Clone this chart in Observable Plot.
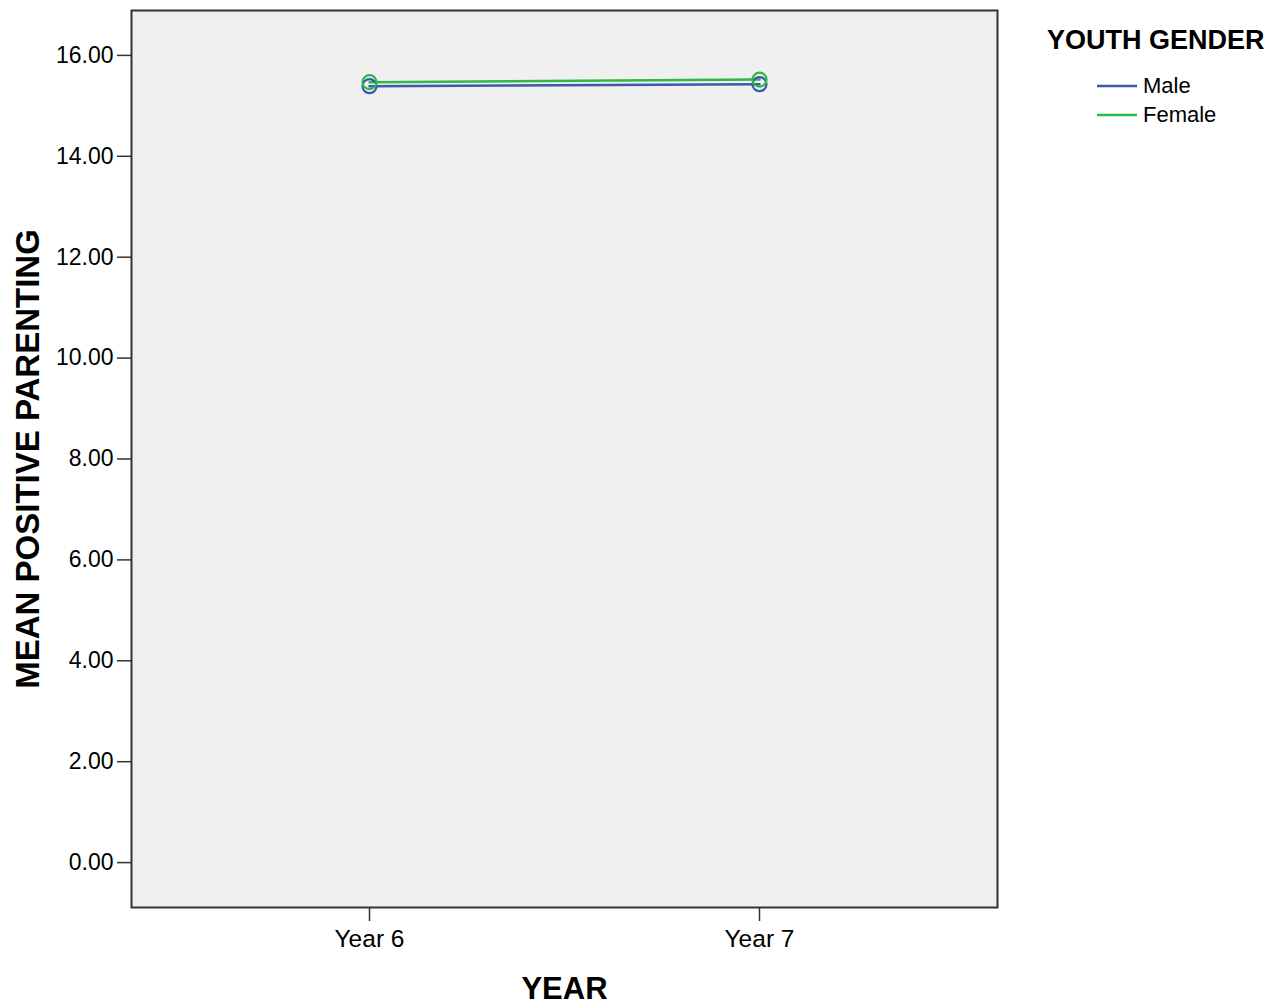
<!DOCTYPE html>
<html>
<head>
<meta charset="utf-8">
<script src="https://cdn.jsdelivr.net/npm/d3@7"></script>
<script src="https://cdn.jsdelivr.net/npm/@observablehq/plot@0.6"></script>
<style>
  html, body { margin: 0; padding: 0; background: #fff; }
  #wrap { position: relative; width: 1274px; height: 1005px; font-family: "Liberation Sans", Arial, sans-serif; }
  #wrap svg { position: absolute; left: 0; top: 0; font-family: "Liberation Sans", Arial, sans-serif; }
  g[aria-label="y-axis label"] text { font-size: 33px; font-weight: bold; fill: #000; }
  g[aria-label="x-axis label"] text { font-size: 31px; font-weight: bold; fill: #000; }
  g[aria-label="x-axis tick label"] text { font-size: 24.5px; }
  #legend { position: absolute; left: 1047px; top: 22px; color: #000; }
  #legend .title { font-weight: bold; font-size: 27px; line-height: 36px; margin-bottom: 13px; white-space: nowrap; }
  #legend .item { display: flex; align-items: center; height: 29px; margin-left: 50px; font-size: 22px; }
  #legend .item svg { position: static; margin-right: 6px; }
</style>
</head>
<body>
<div id="wrap"></div>
<script>
const years = ["Year 6", "Year 7"];
const genders = ["Male", "Female"];
const maleValues = [15.39, 15.43];
const femaleValues = [15.47, 15.52];
const yTicks = [0, 2, 4, 6, 8, 10, 12, 14, 16];
const colors = ["#3E58AC", "#2EB848"];

const data = [];
years.forEach((yr, i) => data.push({year: yr, gender: "Male", value: maleValues[i]}));
years.forEach((yr, i) => data.push({year: yr, gender: "Female", value: femaleValues[i]}));

const chart = Plot.plot({
  width: 1274,
  height: 1005,
  marginLeft: 131,
  marginRight: 277,
  marginTop: 10,
  marginBottom: 98,
  style: {fontFamily: "Liberation Sans, Arial, sans-serif", fontSize: "23px", color: "#000", background: "transparent"},
  x: {type: "point", domain: years, padding: 0.61},
  y: {domain: [-0.89, 16.89]},
  color: {domain: genders, range: colors},
  marks: [
    Plot.frame({fill: "#F0F0F0", stroke: "none"}),
    Plot.axisY({ticks: yTicks, tickFormat: d3.format(".2f"), tickSize: 14, tickPadding: 4, stroke: "#333", strokeWidth: 1.5,
      label: "MEAN POSITIVE PARENTING", labelAnchor: "center", labelArrow: "none", labelOffset: 116}),
    Plot.axisX({tickSize: 14, tickPadding: 8, stroke: "#333", strokeWidth: 1.5,
      label: "YEAR", labelAnchor: "center", labelArrow: "none", labelOffset: 91}),
    Plot.line(data, {x: "year", y: "value", z: "gender", stroke: "gender", strokeWidth: 2.5}),
    Plot.dot(data, {x: "year", y: "value", stroke: "gender", r: 7, strokeWidth: 2.2, fill: "none"}),
    Plot.frame({stroke: "#333", strokeWidth: 2})
  ]
});

const wrap = document.getElementById("wrap");
wrap.appendChild(chart);

const legend = document.createElement("div");
legend.id = "legend";
let html = '<div class="title">YOUTH GENDER</div>';
genders.forEach((g, i) => {
  html += '<div class="item"><svg width="40" height="4"><line x1="0" x2="40" y1="2" y2="2" stroke="' + colors[i] + '" stroke-width="2.5"/></svg>' + g + '</div>';
});
legend.innerHTML = html;
wrap.appendChild(legend);
</script>
</body>
</html>
